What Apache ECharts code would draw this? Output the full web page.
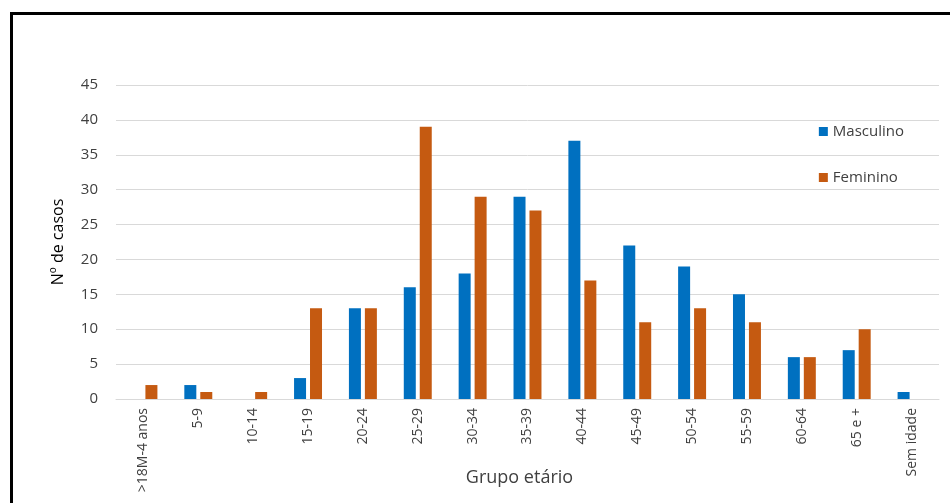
<!DOCTYPE html>
<html>
<head>
<meta charset="utf-8">
<script src="https://cdn.jsdelivr.net/npm/echarts@6/dist/echarts.min.js"></script>
<style>
  html, body { margin: 0; padding: 0; background: #fff; }
  #frame { position: absolute; left: 10px; top: 12px; width: 1000px; height: 600px; border: 3px solid #000; box-sizing: border-box; }
  #chart { position: absolute; left: 0; top: 0; width: 950px; height: 503px; }
</style>
</head>
<body>
<div id="frame"></div>
<div id="chart"></div>
<script>
// faixas etárias
var categorias = ['>18M-4 anos', '5-9', '10-14', '15-19', '20-24', '25-29', '30-34', '35-39',
  '40-44', '45-49', '50-54', '55-59', '60-64', '65 e +', 'Sem idade'];
var masculino = [0, 2, 0, 3, 13, 16, 18, 29, 37, 22, 19, 15, 6, 7, 1];
var feminino = [2, 1, 1, 13, 13, 39, 29, 27, 17, 11, 13, 11, 6, 10, 0];

var fonte = '"Open Sans", "Noto Sans", sans-serif';

var myChart = echarts.init(document.getElementById('chart'));
var option = {
  animation: false,
  textStyle: { fontFamily: fonte },
  legend: {
    orient: 'vertical',
    right: 41,
    top: 119,
    itemGap: 31,
    itemWidth: 9,
    itemHeight: 9,
    icon: 'rect',
    textStyle: { color: '#404040', fontSize: 15, fontFamily: fonte },
    data: ['Masculino', 'Feminino']
  },
  grid: {
    left: 116,
    right: 11,
    top: 85,
    bottom: 104,
    containLabel: false,
    outerBoundsMode: 'none'
  },
  xAxis: {
    type: 'category',
    data: categorias,
    name: 'Grupo etário',
    nameLocation: 'middle',
    nameGap: 70,
    nameMoveOverlap: false,
    nameTextStyle: { color: '#404040', fontSize: 18, fontFamily: fonte, padding: [0, 16, 0, 0] },
    axisTick: { show: false },
    axisLine: { lineStyle: { color: '#d9d9d9' } },
    axisLabel: {
      rotate: 90,
      interval: 0,
      margin: 9,
      color: '#404040',
      fontSize: 14,
      fontFamily: fonte
    }
  },
  yAxis: {
    type: 'value',
    min: 0,
    max: 45,
    interval: 5,
    name: 'Nº de casos',
    nameLocation: 'middle',
    nameGap: 50,
    nameTextStyle: { color: '#000', fontSize: 16, fontFamily: fonte },
    axisLine: { show: false },
    axisTick: { show: false },
    axisLabel: { color: '#404040', fontSize: 15, margin: 18, fontFamily: fonte },
    splitLine: { lineStyle: { color: '#d9d9d9' } }
  },
  series: [{
    name: 'Masculino',
    type: 'bar',
    data: masculino,
    barWidth: 12,
    barGap: '33%',
    itemStyle: { color: '#0070C0' }
  }, {
    name: 'Feminino',
    type: 'bar',
    data: feminino,
    barWidth: 12,
    itemStyle: { color: '#C55A11' }
  }]
};
myChart.setOption(option);
</script>
</body>
</html>
